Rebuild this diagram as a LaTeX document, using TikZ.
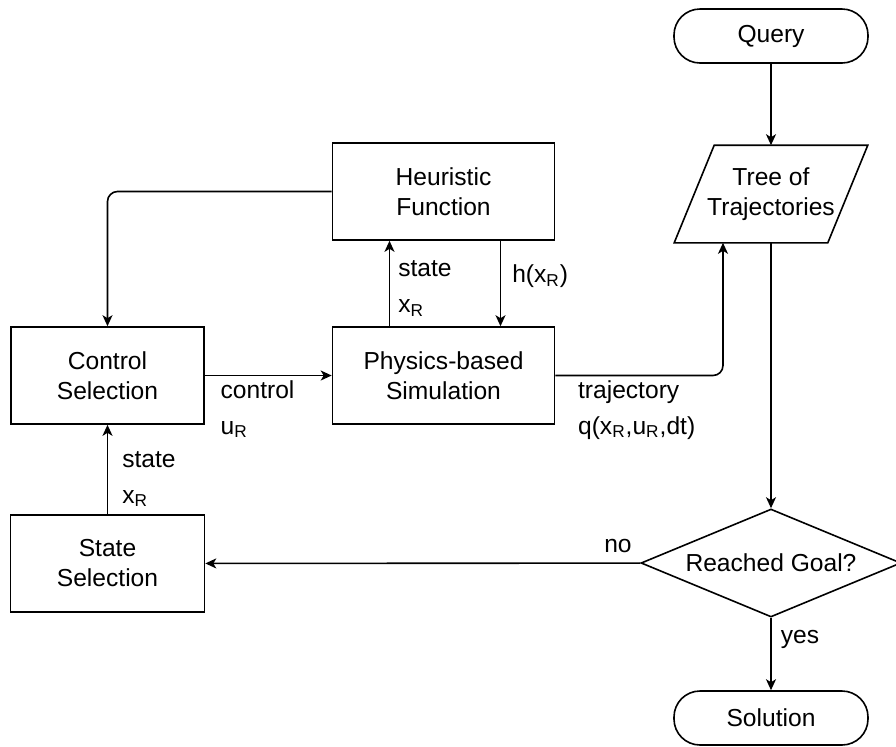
\documentclass[tikz,border=0pt]{standalone}
\usepackage{fontspec}
\setmainfont{Liberation Sans}
\usepackage{tikz}
\usetikzlibrary{shapes.geometric,arrows,arrows.meta,positioning,calc}

\begin{document}
\begin{tikzpicture}[->,>={Stealth[length=5.5pt,width=5pt,inset=1.5pt]},thick,
                    every node/.style={align=center,font=\fontsize{12.3}{15}\selectfont},
                    lbl/.style={align=left,inner sep=2pt,font=\fontsize{12.3}{18}\selectfont}]
  \tikzstyle{block}=[draw=black,rectangle,minimum height=48.5pt]
  \tikzstyle{term}=[draw=black,rectangle,rounded corners=13pt,minimum width=97pt,minimum height=27pt]
  \useasboundingbox (0,0) rectangle (448pt,-373pt);

  % left part: the search loop
  \node[block,minimum width=96.5pt] (ctrl) at (53.75pt,-187.75pt) {Control\\Selection};
  \node[block,minimum width=111pt] (phys) [right of=ctrl,node distance=168pt] {Physics-based\\Simulation};
  \node[block,minimum width=111pt] (heur) [above of=phys,node distance=92pt] {Heuristic\\Function};
  \node[block,minimum width=97pt] (state) [below of=ctrl,node distance=94pt] {State\\Selection};

  % right part: query and result
  \node[rectangle,minimum width=76pt,minimum height=48pt,inner sep=0pt]
        (tree) at (385.5pt,-97pt) {Tree of\\Trajectories};
  \draw[-] ([xshift=-10pt]tree.south west) -- ([xshift=-10pt]tree.south east)
        -- ([xshift=10pt]tree.north east) -- ([xshift=10pt]tree.north west) -- cycle;
  \node[term] (query) [above of=tree,node distance=79pt] {Query};
  \node[draw=black,diamond,aspect=2.4,inner sep=0pt,minimum width=130pt,minimum height=54pt]
        (goal) [below of=tree,node distance=184.5pt] {Reached Goal?};
  \node[term] (sol) [below of=goal,node distance=77.5pt] {Solution};

  \path (query) edge (tree)
        (tree) edge (goal);
  \draw (goal) -- node[lbl,pos=0.3,anchor=west,xshift=2.5pt] {yes} (sol);
  \draw (goal) -- node[lbl,at start,anchor=south east,xshift=-2pt,yshift=3pt] {no} (state);
  \draw (state) -- node[lbl,anchor=west,xshift=5pt,yshift=-4.75pt] {state\\x\textsubscript{R}} (ctrl);
  \draw (ctrl) -- node[lbl,at start,anchor=north west,xshift=5.5pt] {control\\u\textsubscript{R}} (phys);
  \draw ([xshift=-27pt]phys.north) -- node[lbl,anchor=west,xshift=2pt,yshift=-2.5pt] {state\\x\textsubscript{R}} ([xshift=-27pt]heur.south);
  \draw ([xshift=28.5pt]heur.south) -- node[lbl,anchor=west,xshift=3.5pt,yshift=3.5pt] {h(x\textsubscript{R})} ([xshift=28.5pt]phys.north);
  \draw[rounded corners=5pt] (heur.west) -| (ctrl.north);
  \draw[rounded corners=5pt] (phys.east) -| node[lbl,at start,anchor=north west,xshift=9pt] {trajectory\\q(x\textsubscript{R},u\textsubscript{R},dt)} ([xshift=-24pt]tree.south);
\end{tikzpicture}
\end{document}
